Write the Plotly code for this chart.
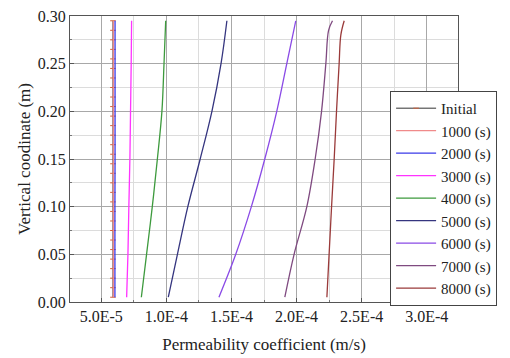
import plotly.graph_objects as go

# ---- data ----
depth_marks = [0.005, 0.015, 0.025, 0.035, 0.045, 0.055, 0.065, 0.075, 0.085, 0.095,
               0.105, 0.115, 0.125, 0.135, 0.145, 0.155, 0.165, 0.175, 0.185, 0.195,
               0.205, 0.215, 0.225, 0.235, 0.245, 0.255, 0.265, 0.275, 0.285, 0.295]
initial_k = [5.9e-5] * 30

depth = [0.005, 0.05, 0.10, 0.15, 0.20, 0.25, 0.295]
k_1000 = [5.93e-5, 5.93e-5, 5.93e-5, 5.93e-5, 5.93e-5, 5.93e-5, 5.93e-5]
k_2000 = [6.05e-5, 6.05e-5, 6.05e-5, 6.06e-5, 6.06e-5, 6.06e-5, 6.06e-5]
k_3000 = [6.95e-5, 7.05e-5, 7.12e-5, 7.20e-5, 7.25e-5, 7.30e-5, 7.33e-5]
k_4000 = [8.08e-5, 8.48e-5, 8.92e-5, 9.31e-5, 9.66e-5, 9.82e-5, 9.95e-5]
k_5000 = [1.015e-4, 1.085e-4, 1.165e-4, 1.26e-4, 1.35e-4, 1.42e-4, 1.465e-4]
k_6000 = [1.404e-4, 1.533e-4, 1.653e-4, 1.756e-4, 1.848e-4, 1.925e-4, 1.994e-4]
depth_7000 = [0.005, 0.05, 0.10, 0.15, 0.20, 0.25, 0.285, 0.295]
k_7000 = [1.91e-4, 1.981e-4, 2.079e-4, 2.143e-4, 2.192e-4, 2.225e-4, 2.246e-4, 2.276e-4]
depth_8000 = [0.005, 0.05, 0.10, 0.15, 0.20, 0.25, 0.28, 0.295]
k_8000 = [2.233e-4, 2.25e-4, 2.269e-4, 2.289e-4, 2.307e-4, 2.327e-4, 2.34e-4, 2.366e-4]

series = [
    ("1000 (s)", k_1000, depth, "#f08a8a"),
    ("2000 (s)", k_2000, depth, "#3a3ae8"),
    ("3000 (s)", k_3000, depth, "#ff33ff"),
    ("4000 (s)", k_4000, depth, "#3d9a3d"),
    ("5000 (s)", k_5000, depth, "#35357f"),
    ("6000 (s)", k_6000, depth, "#8a4ae6"),
    ("7000 (s)", k_7000, depth_7000, "#7f4a80"),
    ("8000 (s)", k_8000, depth_8000, "#9a3a3a"),
]

x_tickvals = [5e-5, 1e-4, 1.5e-4, 2e-4, 2.5e-4, 3e-4]
x_ticktext = ["5.0E-5", "1.0E-4", "1.5E-4", "2.0E-4", "2.5E-4", "3.0E-4"]
y_tickvals = [0.0, 0.05, 0.10, 0.15, 0.20, 0.25, 0.30]
y_ticktext = ["0.00", "0.05", "0.10", "0.15", "0.20", "0.25", "0.30"]

FONT = "Liberation Serif, DejaVu Serif, serif"

fig = go.Figure()
fig.add_trace(go.Scatter(
    x=initial_k, y=depth_marks, name="Initial", mode="lines+markers",
    line=dict(color="#333333", width=1),
    marker=dict(symbol="line-ew", size=4, line=dict(color="#d0603a", width=1))))
for name, k, d, c in series:
    fig.add_trace(go.Scatter(x=k, y=d, name=name, mode="lines",
                             line=dict(color=c, width=1.3, shape="spline")))

axis_common = dict(showline=True, mirror=True, linecolor="#555555", linewidth=1,
                   showgrid=True, gridcolor="#a8a8a8", gridwidth=1, zeroline=False,
                   ticks="inside", ticklen=4, tickcolor="#555555", automargin=False,
                   tickfont=dict(family=FONT, size=16, color="#222222"))

fig.update_xaxes(range=[2.6e-5, 3.24e-4], tickvals=x_tickvals, ticktext=x_ticktext,
                 minor=dict(dtick=2.5e-5, tick0=0, showgrid=True, gridcolor="#dcdcdc",
                            ticks="inside", ticklen=2, tickcolor="#777777"),
                 title=dict(text="Permeability coefficient (m/s)",
                            font=dict(family=FONT, size=17, color="#222222"), standoff=13),
                 **axis_common)
fig.update_yaxes(range=[0, 0.30], tickvals=y_tickvals, ticktext=y_ticktext,
                 minor=dict(dtick=0.025, tick0=0, showgrid=True, gridcolor="#dcdcdc",
                            ticks="inside", ticklen=2, tickcolor="#777777"),
                 title=dict(text="Vertical coodinate (m)",
                            font=dict(family=FONT, size=17, color="#222222"), standoff=2),
                 **axis_common)

fig.update_layout(
    width=510, height=358,
    margin=dict(l=70, r=52, t=16, b=56),
    paper_bgcolor="white", plot_bgcolor="white",
    font=dict(family=FONT),
    showlegend=True,
    legend=dict(x=0.825, y=0.738, xanchor="left", yanchor="top",
                bgcolor="white", bordercolor="#444444", borderwidth=1,
                font=dict(family=FONT, size=15, color="#222222"),
                itemwidth=40, tracegroupgap=0),
)

fig.write_html("out.html")
